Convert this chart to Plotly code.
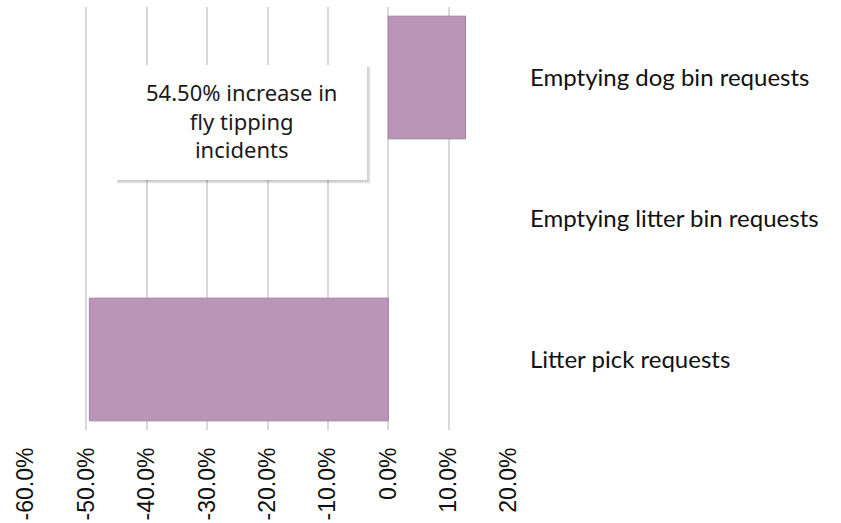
import plotly.graph_objects as go

# Change in service requests by category
categories = ["Emptying dog bin requests", "Emptying litter bin requests", "Litter pick requests"]
change_pct = [12.8, 0.0, -49.5]
tick_values = [-60, -50, -40, -30, -20, -10, 0, 10, 20]
tick_labels = ["-60.0%", "-50.0%", "-40.0%", "-30.0%", "-20.0%", "-10.0%", "0.0%", "10.0%", "20.0%"]
callout_text = "54.50% increase in<br>fly tipping<br>incidents"

BAR_COLOR = "#BB95B8"
EDGE_COLOR = "#A27FA0"
GRID_COLOR = "#D9D9D9"

# no outline on zero-length bars
edge_widths = [1 if v != 0 else 0 for v in change_pct]

fig = go.Figure()
fig.add_trace(go.Bar(
    y=categories,
    x=change_pct,
    orientation="h",
    width=0.87,
    marker=dict(color=BAR_COLOR, line=dict(color=EDGE_COLOR, width=edge_widths)),
    hoverinfo="skip",
))

# Callout box with a soft drop shadow
box = dict(x0=-45.2, x1=-3.5, y0=0.591, y1=0.863)
for i, alpha in enumerate([0.05, 0.07, 0.09]):
    off_x = 0.6 - i * 0.18
    off_y = 0.009 - i * 0.0025
    fig.add_shape(type="rect", xref="x", yref="paper",
                  x0=box["x0"] + 0.3, x1=box["x1"] + off_x,
                  y0=box["y0"] - off_y, y1=box["y1"] - 0.005,
                  fillcolor=f"rgba(0,0,0,{alpha})", line=dict(width=0), layer="above")
fig.add_shape(type="rect", xref="x", yref="paper",
              x0=box["x0"], x1=box["x1"], y0=box["y0"], y1=box["y1"],
              fillcolor="white", line=dict(width=0), layer="above")
fig.add_annotation(xref="x", yref="paper",
                   x=(box["x0"] + box["x1"]) / 2, y=(box["y0"] + box["y1"]) / 2 + 0.004,
                   xanchor="center", yanchor="middle",
                   text=callout_text, showarrow=False, align="center",
                   font=dict(family="Noto Sans, Open Sans, sans-serif", size=22, color="#1a1a1a"))

fig.update_layout(
    width=841, height=523,
    margin=dict(l=26, r=332, t=7, b=93),
    paper_bgcolor="white", plot_bgcolor="white",
    showlegend=False,
)
fig.update_xaxes(
    range=[-60, 20],
    tickmode="array", tickvals=tick_values, ticktext=tick_labels,
    tickangle=-90,
    tickfont=dict(family="Liberation Sans, Arial, sans-serif", size=23, color="#111111"),
    showgrid=True, gridcolor=GRID_COLOR, gridwidth=1.5,
    zeroline=False, showline=False, ticks="",
    ticklabelstandoff=12,
    automargin=False,
)
fig.update_yaxes(
    categoryorder="array", categoryarray=categories[::-1],
    side="right",
    tickfont=dict(family="Lato, sans-serif", size=24, color="#111111"),
    showgrid=False, zeroline=False, showline=False, ticks="",
    ticklabelstandoff=20,
    automargin=False,
)

fig.write_html("out.html")
